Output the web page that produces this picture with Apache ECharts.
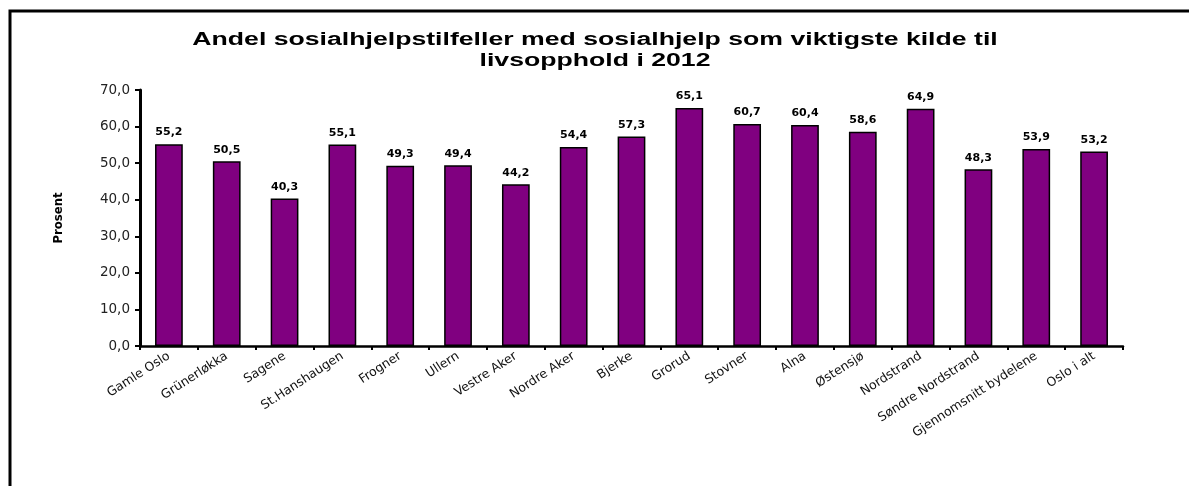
<!DOCTYPE html>
<html>
<head>
<meta charset="utf-8">
<script src="https://cdn.jsdelivr.net/npm/echarts@6/dist/echarts.min.js"></script>
<style>
  html, body { margin: 0; padding: 0; background: #fff; }
  #main { width: 1189px; height: 486px; }
</style>
</head>
<body>
<div id="main"></div>
<script>
var myChart = echarts.init(document.getElementById('main'));

var titleLines = ['Andel sosialhjelpstilfeller med sosialhjelp som viktigste kilde til',
    'livsopphold i 2012'];
var categories = ['Gamle Oslo', 'Grünerløkka', 'Sagene', 'St.Hanshaugen', 'Frogner', 'Ullern',
    'Vestre Aker', 'Nordre Aker', 'Bjerke', 'Grorud', 'Stovner', 'Alna', 'Østensjø',
    'Nordstrand', 'Søndre Nordstrand', 'Gjennomsnitt bydelene', 'Oslo i alt'];
var values = [55.2, 50.5, 40.3, 55.1, 49.3, 49.4, 44.2, 54.4, 57.3, 65.1, 60.7, 60.4, 58.6,
    64.9, 48.3, 53.9, 53.2];

function komma(v) {
    return v.toFixed(1).replace('.', ',');
}

// the original picture is stretched sideways, so the title is drawn stretched too
function titleText(txt, y) {
    return {
        type: 'text',
        x: 595,
        y: y,
        scaleX: 1.48,
        silent: true,
        style: {
            text: txt,
            fontFamily: 'Liberation Sans',
            fontSize: 18,
            fontWeight: 'bold',
            fill: '#000',
            textAlign: 'center',
            textVerticalAlign: 'middle'
        }
    };
}

var option = {
    backgroundColor: '#fff',
    animation: false,
    graphic: [{
        type: 'rect',
        shape: { x: 10, y: 11, width: 1400, height: 700 },
        style: { fill: 'none', stroke: '#000', lineWidth: 3 },
        silent: true
    },
        titleText(titleLines[0], 40),
        titleText(titleLines[1], 61)
    ],
    grid: {
        left: 140,
        right: 66,
        top: 90,
        bottom: 140
    },
    xAxis: {
        type: 'category',
        data: categories,
        axisLine: { lineStyle: { color: '#000', width: 2.5 } },
        axisTick: { show: true, inside: false, length: 4, lineStyle: { color: '#000', width: 2 } },
        axisLabel: {
            rotate: 33,
            interval: 0,
            margin: 9,
            fontFamily: 'DejaVu Sans',
            fontSize: 12.5,
            color: '#111'
        }
    },
    yAxis: {
        type: 'value',
        min: 0,
        max: 70,
        interval: 10,
        name: 'Prosent',
        nameLocation: 'middle',
        nameGap: 75,
        nameRotate: 90,
        nameTextStyle: {
            fontFamily: 'DejaVu Sans Condensed',
            fontWeight: 'bold',
            fontSize: 13,
            color: '#000'
        },
        axisLine: { show: true, lineStyle: { color: '#000', width: 3 } },
        axisTick: { show: true, length: 5, lineStyle: { color: '#000', width: 2 } },
        splitLine: { show: false },
        axisLabel: {
            margin: 10,
            fontFamily: 'DejaVu Sans',
            fontSize: 13.5,
            color: '#222',
            formatter: function (v) { return komma(v); }
        }
    },
    series: [{
        type: 'bar',
        data: values,
        barWidth: '48%',
        itemStyle: {
            color: '#800080',
            borderColor: '#000',
            borderWidth: 1.5
        },
        label: {
            show: true,
            position: 'top',
            distance: 6,
            fontFamily: 'DejaVu Sans',
            fontSize: 11,
            fontWeight: 'bold',
            color: '#000',
            formatter: function (p) { return komma(p.value); }
        }
    }]
};

myChart.setOption(option);
window.onresize = function () {
    if (myChart) {
        myChart.resize();
    }
};
</script>
</body>
</html>
